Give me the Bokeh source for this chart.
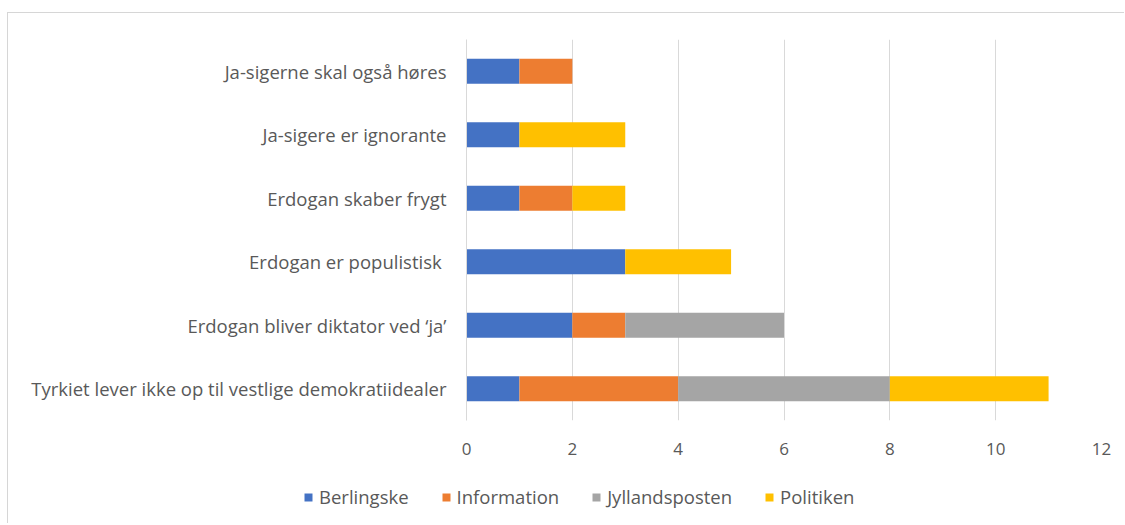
from bokeh.plotting import figure
from bokeh.layouts import column
from bokeh.models import ColumnDataSource, Range1d, FactorRange, FixedTicker, Legend
from bokeh.embed import file_html
from bokeh.resources import INLINE

categories = [
    "Tyrkiet lever ikke op til vestlige demokratiidealer",
    "Erdogan bliver diktator ved \u2018ja\u2019",
    "Erdogan er populistisk ",
    "Erdogan skaber frygt",
    "Ja-sigere er ignorante",
    "Ja-sigerne skal også høres",
]
berlingske = [1, 2, 3, 1, 1, 1]
information = [3, 1, 0, 1, 0, 1]
jyllandsposten = [4, 3, 0, 0, 0, 0]
politiken = [3, 0, 2, 1, 2, 0]
series = ["Berlingske", "Information", "Jyllandsposten", "Politiken"]
colors = ["#4472C4", "#ED7D31", "#A5A5A5", "#FFC000"]
x_ticks = [0, 2, 4, 6, 8, 10, 12]

source = ColumnDataSource(dict(
    cat=categories,
    Berlingske=berlingske,
    Information=information,
    Jyllandsposten=jyllandsposten,
    Politiken=politiken,
))

font = "Open Sans"
fs = "18.5px"
fs_tick = "17px"
grey = "#595959"

p = figure(
    width=1116, height=460,
    y_range=FactorRange(*categories, range_padding=0),
    x_range=Range1d(0, 12),
    output_backend="svg", toolbar_location=None,
    min_border_left=458, min_border_right=23,
    min_border_top=26, min_border_bottom=53,
)
p.frame_align = False
p.hbar_stack(series, y="cat", height=0.39, color=colors,
             line_color=None, source=source)

p.outline_line_color = None
p.ygrid.grid_line_color = None
p.xgrid.grid_line_color = "#d9d9d9"
p.xgrid.grid_line_width = 1

p.yaxis.axis_line_color = "#d9d9d9"
p.yaxis.major_tick_line_color = None
p.yaxis.minor_tick_line_color = None
p.yaxis.major_label_text_font = font
p.yaxis.major_label_text_font_size = fs
p.yaxis.major_label_text_color = grey
p.yaxis.major_label_standoff = 14

p.xaxis.ticker = FixedTicker(ticks=x_ticks)
p.xaxis.axis_line_color = None
p.xaxis.major_tick_line_color = None
p.xaxis.minor_tick_line_color = None
p.xaxis.major_label_text_font = font
p.xaxis.major_label_text_font_size = fs_tick
p.xaxis.major_label_text_color = grey
p.xaxis.major_label_standoff = 16

# legend strip below the chart (hidden renderers, only their legend swatches show)
p2 = figure(
    width=1116, height=50,
    x_range=Range1d(0, 12), y_range=FactorRange(*categories),
    x_axis_type=None, y_axis_type=None,
    output_backend="svg", toolbar_location=None,
    min_border=0,
)
p2.frame_align = False
p2.outline_line_color = None
p2.xgrid.grid_line_color = None
p2.ygrid.grid_line_color = None
swatches = p2.hbar_stack(series, y="cat", height=0.39, color=colors,
                         line_color=None, source=source, visible=False)

lg = Legend(items=[(s, [r]) for s, r in zip(series, swatches)])
lg.orientation = "horizontal"
lg.location = (295, 14)
lg.padding = 0
lg.margin = 0
lg.border_line_color = None
lg.background_fill_alpha = 0
lg.inactive_fill_alpha = 0
lg.glyph_width = 10
lg.glyph_height = 10
lg.label_standoff = 6
lg.spacing = 32
lg.label_text_font = font
lg.label_text_font_size = fs
lg.label_text_color = grey
p2.add_layout(lg, "center")

layout = column(p, p2, spacing=0)
layout.styles = {"border-top": "1px solid #d6d6d6", "border-left": "1px solid #d6d6d6",
                 "margin-top": "12px", "margin-left": "7px"}

open("out.html", "w").write(file_html(layout, INLINE))
